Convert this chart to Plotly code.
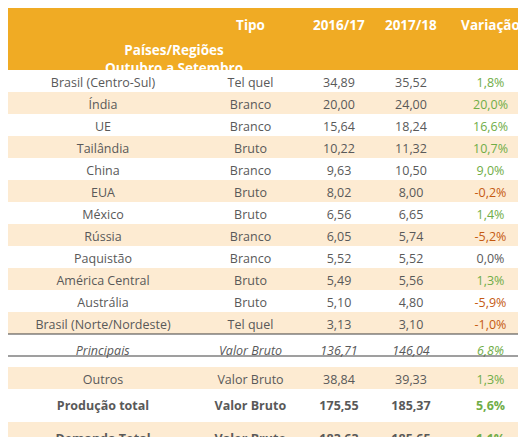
import plotly.graph_objects as go

paises = ["Brasil (Centro-Sul)", "Índia", "UE", "Tailândia", "China", "EUA", "México", "Rússia",
          "Paquistão", "América Central", "Austrália", "Brasil (Norte/Nordeste)",
          "Principais", "Outros", "Produção total", "Demanda Total", "Saldo"]
tipo = ["Tel quel", "Branco", "Branco", "Bruto", "Branco", "Bruto", "Bruto", "Branco",
        "Branco", "Bruto", "Bruto", "Tel quel",
        "Valor Bruto", "Valor Bruto", "Valor Bruto", "Valor Bruto", "Valor Bruto"]
v1617 = ["34,89", "20,00", "15,64", "10,22", "9,63", "8,02", "6,56", "6,05", "5,52", "5,49", "5,10", "3,13",
         "136,71", "38,84", "175,55", "183,63", "-8,08"]
v1718 = ["35,52", "24,00", "18,24", "11,32", "10,50", "8,00", "6,65", "5,74", "5,52", "5,56", "4,80", "3,10",
         "146,04", "39,33", "185,37", "185,65", "-0,27"]
variacao = ["1,8%", "20,0%", "16,6%", "10,7%", "9,0%", "-0,2%", "1,4%", "-5,2%", "0,0%", "1,3%", "-5,9%", "-1,0%",
            "6,8%", "1,3%", "5,6%", "1,1%", ""]

n = len(paises)
GRAY = "#595959"; GREEN = "#70AD47"; RED = "#C55A11"; ORANGE = "#F0AB24"; CREAM = "#FDEBD2"

def style(s, i):
    if i == 12: return f"<i>{s}</i>"
    if i >= 14: return f"<b>{s}</b>" if s else s
    return s

cols = [paises, tipo, v1617, v1718, variacao]
vals = [[style(s, i) for i, s in enumerate(c)] for c in cols]
fills = [ORANGE if i == n - 1 else (CREAM if i % 2 else "white") for i in range(n)]
base_colors = ["white" if i == n - 1 else GRAY for i in range(n)]
var_colors = []
for i, s in enumerate(variacao):
    if s.startswith("-"): var_colors.append(RED)
    elif s in ("0,0%", ""): var_colors.append(GRAY)
    else: var_colors.append(GREEN)

W, H = 526, 437
widths = [190, 105, 72, 72, 87]
fig = go.Figure(go.Table(
    columnwidth=widths,
    header=dict(values=["", "<b>Tipo</b>", "<b>2016/17</b>", "<b>2017/18</b>", "<b>Variação</b>"],
                fill_color=ORANGE, font=dict(color="white", size=13.5, family="Open Sans"),
                align="center", height=62, line=dict(width=0, color=ORANGE)),
    cells=dict(values=vals, fill_color=[fills] * 5,
               font=dict(color=[base_colors] * 4 + [var_colors], size=12.5, family="Open Sans"),
               align="center", height=22, line=dict(width=0, color="white")),
))
shapes = []
for py in (62 + 12 * 22, 62 + 13 * 22):
    y = 1 - py / H
    shapes.append(dict(type="line", xref="paper", yref="paper", x0=0, x1=1, y0=y, y1=y,
                       line=dict(color="#404040", width=1.2)))
fig.add_annotation(text="<b>Países/Regiões<br>Outubro a Setembro</b>", xref="paper", yref="paper",
                   x=widths[0] / 2 / sum(widths), y=1 - 31 / H, showarrow=False, align="center",
                   font=dict(color="white", size=13.5, family="Open Sans"))
fig.update_layout(width=W, height=H, margin=dict(l=0, r=0, t=0, b=0), shapes=shapes,
                  paper_bgcolor="white")
fig.write_html("out.html")
